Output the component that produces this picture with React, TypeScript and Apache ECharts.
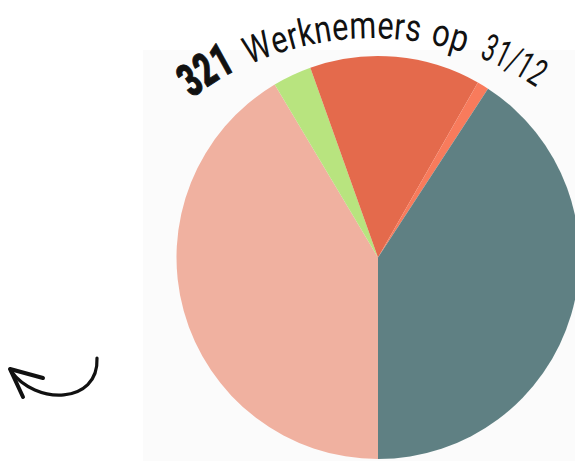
import React, { useEffect, useRef } from "react";
import * as echarts from "echarts";

const categories = ["Groep A", "Groep B", "Groep C", "Groep D", "Groep E"];
const values = [133, 10, 44, 3, 131];
const colors = ["#F0B1A0", "#B8E47F", "#E46A4C", "#F87B5C", "#5F8083"];
const titleWords = ["321", "Werknemers", "op", "31/12"];

function measure(text: string, font: string): number {
  const c = document.createElement("canvas");
  const ctx = c.getContext("2d")!;
  ctx.font = font;
  return ctx.measureText(text).width;
}

function buildTitle(): any[] {
  const cx = 372;
  const cy = 333;
  const R = 289;
  // angular spans (degrees from vertical) of each word along the arc
  const spans: [number, number][] = [
    [-37.5, -27.2],
    [-24.6, 9.3],
    [11.3, 18.3],
    [21.2, 33.8],
  ];
  const els: any[] = [];
  titleWords.forEach((word, wi) => {
    const bold = wi === 0;
    const size = bold ? 46 : 38;
    const weight = bold ? "900" : "400";
    const font = `${weight} ${size}px Roboto`;
    const ws = word.split("").map((ch) => measure(ch, font));
    const total = ws.reduce((a, b) => a + b, 0);
    const [a0, a1] = spans[wi];
    const target = ((a1 - a0) * Math.PI / 180) * R;
    const sx = target / total;
    let s = 0;
    word.split("").forEach((ch, i) => {
      const mid = s + (ws[i] * sx) / 2;
      s += ws[i] * sx;
      const th = a0 * Math.PI / 180 + mid / R;
      els.push({
        type: "group",
        x: cx,
        y: cy,
        rotation: -th,
        silent: true,
        children: [
          {
            type: "text",
            x: 0,
            y: -R,
            scaleX: sx,
            style: {
              text: ch,
              fontFamily: "Roboto",
              fontWeight: weight,
              fontSize: size,
              fill: "#111",
              stroke: bold ? "#111" : null,
              lineWidth: bold ? 1 : 0,
              align: "center",
              verticalAlign: "bottom",
            },
          },
        ],
      });
    });
  });
  return els;
}

export default function App() {
  const ref = useRef<HTMLDivElement>(null);
  useEffect(() => {
    document.body.style.margin = "0";
    const chart = echarts.init(ref.current!, null, { renderer: "svg" });
    chart.setOption({
      animation: false,
      backgroundColor: "#ffffff",
      graphic: [
        {
          type: "rect",
          z: -10,
          silent: true,
          shape: { x: 143, y: 50, width: 440, height: 420 },
          style: { fill: "#fbfbfb" },
        },
        ...buildTitle(),
        {
          type: "bezierCurve",
          silent: true,
          shape: { x1: 97, y1: 358, cpx1: 99, cpy1: 405, cpx2: 35, cpy2: 405, x2: 11, y2: 371 },
          style: { stroke: "#111", lineWidth: 3.2, fill: null, lineCap: "round" },
        },
        {
          type: "polyline",
          silent: true,
          shape: { points: [[43, 378], [10, 369], [23, 397]] },
          style: { stroke: "#111", lineWidth: 4, fill: null, lineCap: "round", lineJoin: "round" },
        },
      ],
      series: [
        {
          type: "pie",
          center: [378, 257.5],
          radius: 201.5,
          startAngle: -90,
          clockwise: true,
          silent: true,
          label: { show: false },
          labelLine: { show: false },
          emphasis: { disabled: true },
          itemStyle: { borderWidth: 0 },
          data: categories.map((name, i) => ({
            name,
            value: values[i],
            itemStyle: { color: colors[i] },
          })),
        },
      ],
    });
    return () => chart.dispose();
  }, []);
  return <div ref={ref} style={{ width: 575, height: 461 }} />;
}
